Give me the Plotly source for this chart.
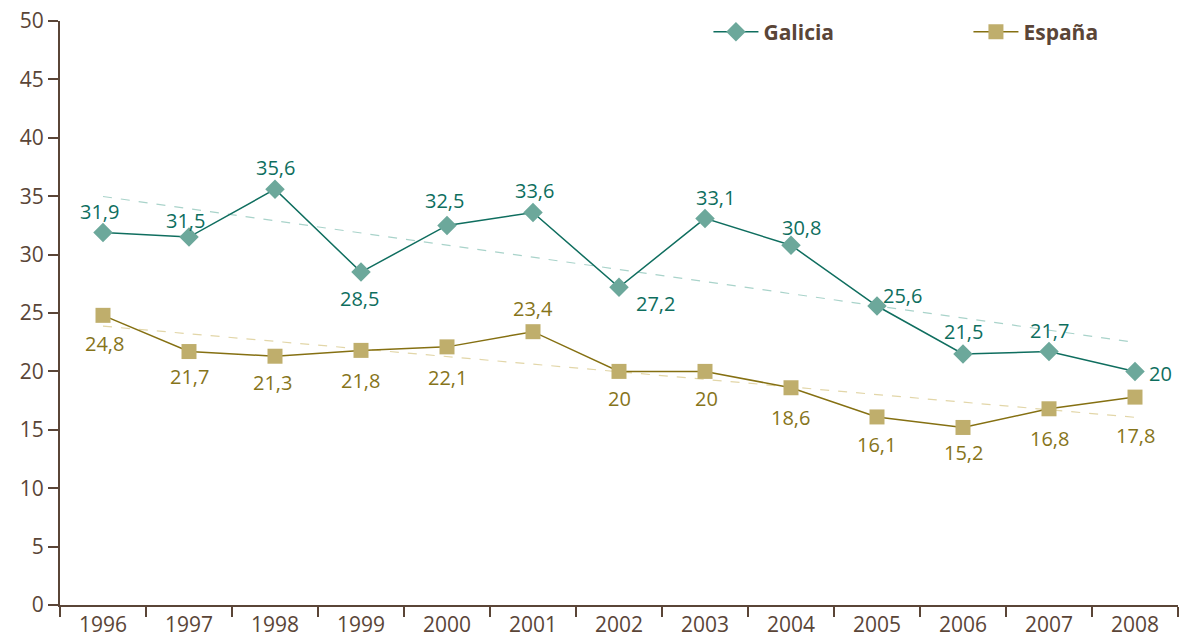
import numpy as np
import plotly.graph_objects as go

years = ["1996", "1997", "1998", "1999", "2000", "2001", "2002",
         "2003", "2004", "2005", "2006", "2007", "2008"]
galicia = [31.9, 31.5, 35.6, 28.5, 32.5, 33.6, 27.2, 33.1, 30.8, 25.6, 21.5, 21.7, 20]
espana = [24.8, 21.7, 21.3, 21.8, 22.1, 23.4, 20, 20, 18.6, 16.1, 15.2, 16.8, 17.8]

# label offsets in px (dx, dy), dy positive = up
galicia_off = [(-4, 21), (-4, 17), (0, 22), (-2, -26), (-3, 25), (1, 22), (36, -16),
               (10, 21), (10, 18), (25, 10), (0, 22), (0, 21), (25, -2)]
espana_off = [(1, -28), (0, -25), (-3, -26), (-1, -30), (0, -31), (0, 23), (0, -27),
              (1, -27), (-1, -30), (-1, -28), (0, -25), (0, -30), (0, -38)]

brown = "#5a4537"
teal_line = "#0f6e5f"
teal_mark = "#6ca89b"
teal_text = "#0e6e5e"
olive_line = "#857012"
olive_mark = "#bfae6c"
olive_text = "#86741a"


def fmt(v):
    return f"{v:g}".replace(".", ",")


def trend(vals):
    x = np.arange(len(vals))
    k, b = np.polyfit(x, vals, 1)
    return k * x + b


fig = go.Figure()

fig.add_trace(go.Scatter(x=years, y=trend(galicia), mode="lines",
                         line=dict(color="#a9d3ca", width=1.2, dash="dash"),
                         showlegend=False, hoverinfo="skip"))
fig.add_trace(go.Scatter(x=years, y=trend(espana), mode="lines",
                         line=dict(color="#e2d6a8", width=1.2, dash="dash"),
                         showlegend=False, hoverinfo="skip"))

fig.add_trace(go.Scatter(
    x=years, y=galicia, name="Galicia", mode="lines+markers",
    line=dict(color=teal_line, width=1.5),
    marker=dict(symbol="diamond", size=15, color=teal_mark),
))
fig.add_trace(go.Scatter(
    x=years, y=espana, name="España", mode="lines+markers",
    line=dict(color=olive_line, width=1.5),
    marker=dict(symbol="square", size=15, color=olive_mark),
))

annotations = []
for vals, offs, col in [(galicia, galicia_off, teal_text), (espana, espana_off, olive_text)]:
    for i, (v, (dx, dy)) in enumerate(zip(vals, offs)):
        annotations.append(dict(x=i, y=v, xref="x", yref="y", text=fmt(v),
                                showarrow=False, xshift=dx, yshift=dy,
                                font=dict(color=col, size=20)))

fig.update_layout(
    width=1191, height=640,
    margin=dict(l=52, r=21, t=13, b=43, autoexpand=False),
    plot_bgcolor="white", paper_bgcolor="white",
    font=dict(family="Open Sans, sans-serif", color=brown, size=20),
    legend=dict(orientation="h", x=0.58, y=1.016, xanchor="left", yanchor="top",
                entrywidth=200, entrywidthmode="pixels", itemwidth=45,
                font=dict(size=21, color=brown, weight="bold"),
                bgcolor="rgba(0,0,0,0)"),
    showlegend=True,
    annotations=annotations,
)
fig.update_xaxes(type="category", showline=True, linecolor=brown, linewidth=2,
                 ticks="outside", tickson="boundaries", ticklen=10, tickcolor=brown,
                 tickwidth=2, showgrid=False, tickfont=dict(size=21, color=brown),
                 range=[-0.5, 12.5])
fig.update_yaxes(range=[0, 50], dtick=5, showline=True, linecolor=brown, linewidth=2,
                 ticks="outside", ticklen=10, tickcolor=brown, tickwidth=2,
                 ticklabeloverflow="allow",
                 showgrid=False, zeroline=False, tickfont=dict(size=21, color=brown))

fig.write_html("out.html")
